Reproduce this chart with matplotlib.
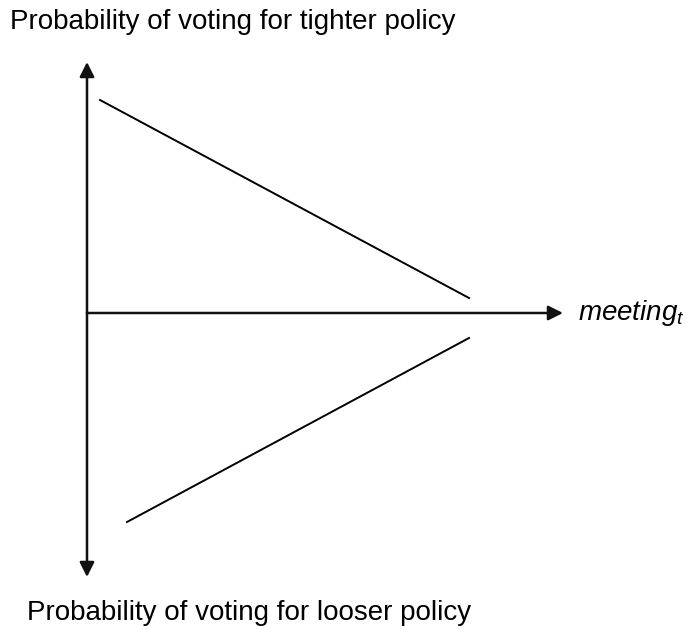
import matplotlib.pyplot as plt

# pixel-space layout of the schematic (origin top-left)
origin = (87, 313)
y_top_tip = 62
y_bottom_tip = 577
x_right_tip = 563

tighter_x = [100, 469]
tighter_y = [100, 298]
looser_x = [127, 469]
looser_y = [522, 338]

top_label = "Probability of voting for tighter policy"
bottom_label = "Probability of voting for looser policy"

plt.rcParams['font.family'] = ['Liberation Sans', 'DejaVu Sans']
plt.rcParams['mathtext.fontset'] = 'custom'
plt.rcParams['mathtext.it'] = 'Liberation Sans:italic'
plt.rcParams['mathtext.rm'] = 'Liberation Sans'

fig = plt.figure(figsize=(6.86, 6.29), dpi=100)
ax = fig.add_axes([0, 0, 1, 1])
ax.set_xlim(0, 686)
ax.set_ylim(629, 0)
ax.axis('off')

arrow = dict(arrowstyle='-|>', color='#111111', lw=1.8, mutation_scale=22,
             shrinkA=0, shrinkB=0)
ax.annotate('', xy=(origin[0], y_top_tip), xytext=origin, arrowprops=arrow)
ax.annotate('', xy=(origin[0], y_bottom_tip), xytext=origin, arrowprops=arrow)
ax.annotate('', xy=(x_right_tip, origin[1]), xytext=origin, arrowprops=arrow)

ax.plot(tighter_x, tighter_y, color='black', lw=1.4)
ax.plot(looser_x, looser_y, color='black', lw=1.4)

ax.text(10, 22, top_label, fontsize=20, va='center', ha='left')
ax.text(27, 613, bottom_label, fontsize=20, va='center', ha='left')
ax.text(578, 313, r'$meeting_t$', fontsize=20, va='center', ha='left')

fig.savefig('out.png', dpi=100)
